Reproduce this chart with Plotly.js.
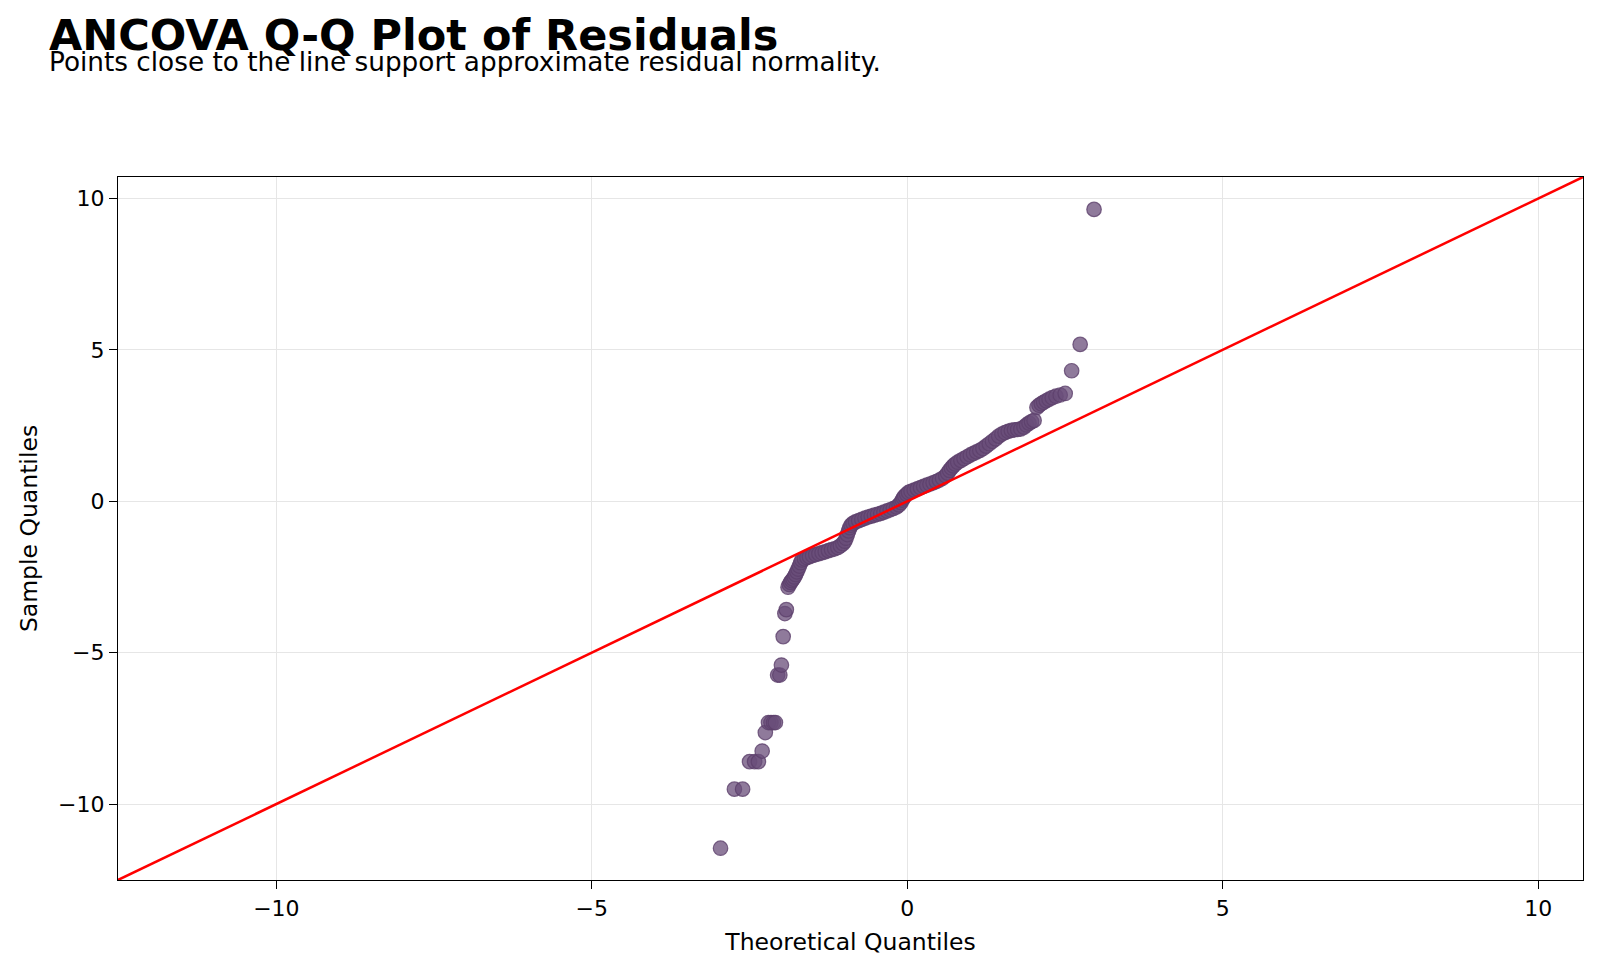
<!DOCTYPE html>
<html>
<head>
<meta charset="utf-8">
<script src="https://cdn.plot.ly/plotly-3.0.1.min.js"></script>
<style>
  html, body { margin: 0; padding: 0; background: #ffffff; }
  #chart { width: 1600px; height: 972px; }
</style>
</head>
<body>
<div id="chart"></div>
<script>
// Normal theoretical quantiles of the ordered residuals
const theoreticalQuantiles = [
  -2.96, -2.74, -2.61, -2.50, -2.42, -2.36, -2.30, -2.25, -2.20, -2.16,
  -2.12, -2.09, -2.055, -2.02, -1.995, -1.967, -1.94, -1.917,
  -1.89, -1.87, -1.85, -1.83, -1.81, -1.79, -1.77, -1.75, -1.73, -1.71, -1.69, -1.67,
  -1.63, -1.59, -1.55, -1.50, -1.45, -1.40, -1.35, -1.30, -1.25, -1.20, -1.15, -1.10, -1.06, -1.02,
  -0.99, -0.97, -0.95, -0.93, -0.91, -0.89, -0.86,
  -0.82, -0.77, -0.72, -0.67, -0.62, -0.57, -0.52, -0.47, -0.42, -0.37, -0.32, -0.27, -0.22, -0.17,
  -0.13, -0.10, -0.08, -0.06, -0.04, -0.01, 0.02,
  0.06, 0.11, 0.16, 0.21, 0.26, 0.31, 0.36, 0.41, 0.46, 0.51, 0.56, 0.61,
  0.64, 0.67, 0.70, 0.73, 0.76, 0.80,
  0.85, 0.90, 0.95, 1.00, 1.05, 1.10, 1.15, 1.20,
  1.25, 1.30, 1.35, 1.40, 1.45, 1.50,
  1.55, 1.60, 1.65, 1.70, 1.75, 1.80, 1.85,
  1.89, 1.93, 1.97, 2.01,
  2.055, 2.088, 2.123, 2.161, 2.203, 2.248, 2.298, 2.357, 2.424, 2.503,
  2.605, 2.74, 2.96
];

// Ordered standardized residuals (sample quantiles)
const sampleQuantiles = [
  -11.46, -9.51, -9.51, -8.60, -8.60, -8.60, -8.25, -7.64, -7.31, -7.31,
  -7.31, -7.31, -5.74, -5.74, -5.41, -4.47, -3.71, -3.58,
  -2.84, -2.75, -2.68, -2.62, -2.57, -2.50, -2.42, -2.33, -2.24, -2.14, -2.03, -1.94,
  -1.90, -1.86, -1.83, -1.79, -1.76, -1.73, -1.70, -1.67, -1.63, -1.60, -1.57, -1.53, -1.47, -1.40,
  -1.32, -1.22, -1.10, -0.98, -0.87, -0.79, -0.73,
  -0.68, -0.64, -0.60, -0.56, -0.52, -0.49, -0.46, -0.43, -0.40, -0.36, -0.32, -0.28, -0.24, -0.19,
  -0.12, -0.04, 0.04, 0.11, 0.17, 0.23, 0.29,
  0.33, 0.37, 0.41, 0.45, 0.49, 0.53, 0.57, 0.61, 0.65, 0.70, 0.76, 0.84,
  0.93, 1.02, 1.10, 1.17, 1.23, 1.29,
  1.35, 1.41, 1.47, 1.53, 1.58, 1.63, 1.68, 1.74,
  1.82, 1.90, 1.98, 2.06, 2.15, 2.22,
  2.27, 2.31, 2.34, 2.36, 2.37, 2.39, 2.45,
  2.52, 2.58, 2.63, 2.67,
  3.10, 3.17, 3.22, 3.27, 3.32, 3.37, 3.42, 3.47, 3.51, 3.56,
  4.31, 5.18, 9.64
];

// Shared axis limits; the 45-degree reference line spans them
const axisLimits = [-12.51, 10.71];
const tickValues = [-10, -5, 0, 5, 10];

const FONT = 'DejaVu Sans, Liberation Sans, sans-serif';

const points = {
  type: 'scatter',
  mode: 'markers',
  x: theoreticalQuantiles,
  y: sampleQuantiles,
  marker: {
    size: 14.5,
    color: 'rgba(106,78,122,0.75)',
    line: { color: 'rgba(92,64,108,0.8)', width: 1.2 }
  },
  hoverinfo: 'x+y',
  showlegend: false
};

const referenceLine = {
  type: 'scatter',
  mode: 'lines',
  x: axisLimits,
  y: axisLimits,
  line: { color: '#ff0000', width: 2.5 },
  hoverinfo: 'skip',
  showlegend: false
};

const axisCommon = {
  range: axisLimits,
  tickmode: 'array',
  tickvals: tickValues,
  ticks: 'outside',
  ticklen: 8,
  tickwidth: 1.3,
  tickcolor: '#000000',
  tickfont: { family: FONT, size: 22, color: '#000000' },
  showline: true,
  mirror: true,
  linecolor: '#000000',
  linewidth: 1.3,
  showgrid: true,
  gridcolor: '#e6e6e6',
  gridwidth: 1,
  zeroline: false,
  fixedrange: true
};

const layout = {
  width: 1600,
  height: 972,
  paper_bgcolor: '#ffffff',
  plot_bgcolor: '#ffffff',
  margin: { l: 118, r: 17, t: 177, b: 92 },
  font: { family: FONT, color: '#000000' },
  title: {
    text: '<b>ANCOVA Q-Q Plot of Residuals</b>',
    font: { family: FONT, size: 43, color: '#000000' },
    xref: 'container',
    yref: 'container',
    x: 49 / 1600,
    xanchor: 'left',
    y: 0.9637,
    yanchor: 'middle'
  },
  xaxis: Object.assign({}, axisCommon, {
    title: { text: 'Theoretical Quantiles', font: { family: FONT, size: 23.5, color: '#000000' }, standoff: 14 }
  }),
  yaxis: Object.assign({}, axisCommon, {
    title: { text: 'Sample Quantiles', font: { family: FONT, size: 23.5, color: '#000000' }, standoff: 13 }
  }),
  annotations: [{
    text: 'Points close to the line support approximate residual normality.',
    xref: 'paper',
    yref: 'paper',
    x: -0.0487,
    xanchor: 'left',
    y: 1.1640,
    yanchor: 'middle',
    showarrow: false,
    font: { family: FONT, size: 26.3, color: '#000000' }
  }],
  hovermode: 'closest'
};

Plotly.newPlot('chart', [points, referenceLine], layout, { displayModeBar: false, responsive: false });
</script>
</body>
</html>
